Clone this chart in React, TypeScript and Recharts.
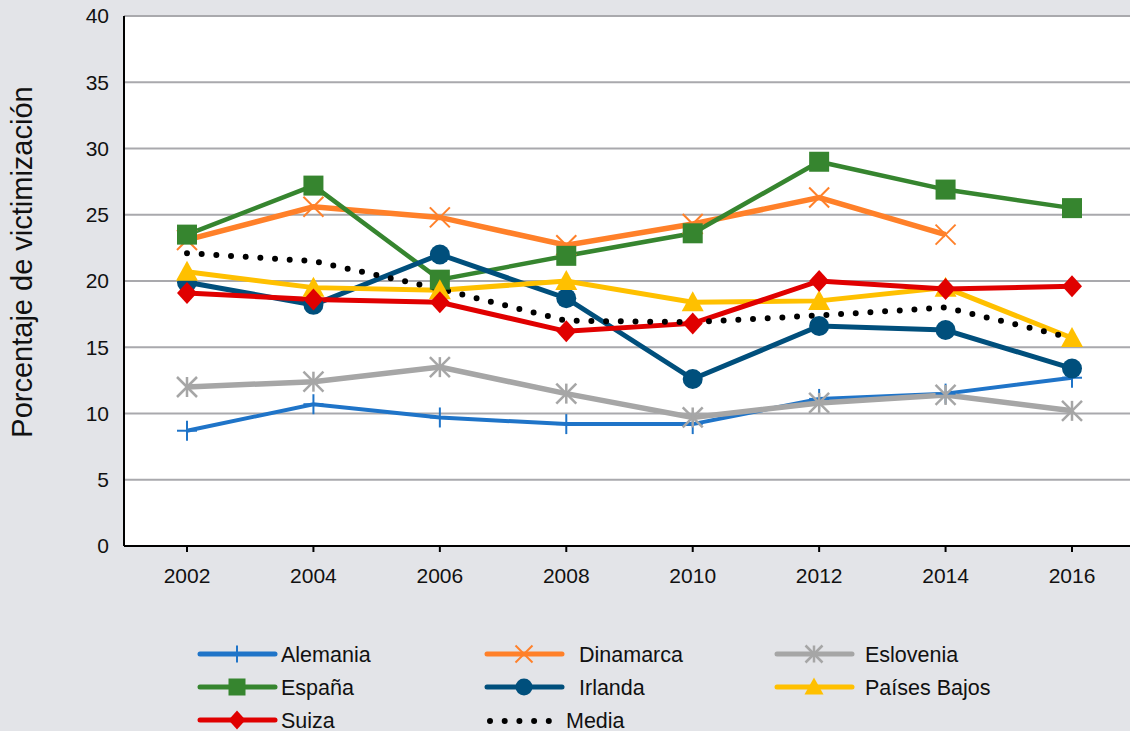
import React from 'react';
import { LineChart, Line, XAxis, YAxis, CartesianGrid } from 'recharts';

const years = ['2002', '2004', '2006', '2008', '2010', '2012', '2014', '2016'];
const yTicks = [0, 5, 10, 15, 20, 25, 30, 35, 40];

const alemania = [8.7, 10.7, 9.7, 9.2, 9.2, 11.1, 11.5, 12.7];
const dinamarca = [23.1, 25.6, 24.8, 22.7, 24.3, 26.3, 23.5, null];
const eslovenia = [12.0, 12.4, 13.5, 11.5, 9.7, 10.8, 11.4, 10.2];
const espana = [23.5, 27.2, 20.1, 21.9, 23.6, 29.0, 26.9, 25.5];
const irlanda = [19.9, 18.2, 22.0, 18.7, 12.6, 16.6, 16.3, 13.4];
const paisesBajos = [20.7, 19.5, 19.3, 20.0, 18.4, 18.5, 19.5, 15.7];
const suiza = [19.1, 18.6, 18.4, 16.2, 16.8, 20.0, 19.4, 19.6];
const media = [22.1, 21.5, 19.4, 17.0, 16.9, 17.4, 18.0, 15.7];

const data = years.map((year, i) => ({
  year,
  alemania: alemania[i],
  dinamarca: dinamarca[i],
  eslovenia: eslovenia[i],
  espana: espana[i],
  irlanda: irlanda[i],
  paisesBajos: paisesBajos[i],
  suiza: suiza[i],
  media: media[i],
}));

type Shape = 'plus' | 'x' | 'star' | 'square' | 'circle' | 'triangle' | 'diamond';

const series: { key: string; name: string; color: string; width: number; shape: Shape }[] = [
  { key: 'alemania', name: 'Alemania', color: '#1f74c8', width: 4, shape: 'plus' },
  { key: 'dinamarca', name: 'Dinamarca', color: '#ff8029', width: 5.5, shape: 'x' },
  { key: 'eslovenia', name: 'Eslovenia', color: '#a6a6a6', width: 5.5, shape: 'star' },
  { key: 'espana', name: 'España', color: '#36852f', width: 4.5, shape: 'square' },
  { key: 'irlanda', name: 'Irlanda', color: '#004f7c', width: 5, shape: 'circle' },
  { key: 'paisesBajos', name: 'Países Bajos', color: '#ffc000', width: 5, shape: 'triangle' },
  { key: 'suiza', name: 'Suiza', color: '#e00000', width: 5, shape: 'diamond' },
];

const Marker = ({ cx, cy, shape, color, s }: { cx: number; cy: number; shape: Shape; color: string; s: number }) => {
  const h = s / 2;
  switch (shape) {
    case 'plus':
      return (
        <g stroke={color} strokeWidth={2}>
          <line x1={cx} y1={cy - h} x2={cx} y2={cy + h} />
          <line x1={cx - h} y1={cy} x2={cx + h} y2={cy} />
        </g>
      );
    case 'x':
      return (
        <g stroke={color} strokeWidth={2}>
          <line x1={cx - h} y1={cy - h} x2={cx + h} y2={cy + h} />
          <line x1={cx - h} y1={cy + h} x2={cx + h} y2={cy - h} />
        </g>
      );
    case 'star':
      return (
        <g stroke={color} strokeWidth={2.5}>
          <line x1={cx - h} y1={cy - h} x2={cx + h} y2={cy + h} />
          <line x1={cx - h} y1={cy + h} x2={cx + h} y2={cy - h} />
          <line x1={cx} y1={cy - h} x2={cx} y2={cy + h} />
        </g>
      );
    case 'square':
      return <rect x={cx - h} y={cy - h} width={s} height={s} fill={color} />;
    case 'circle':
      return <circle cx={cx} cy={cy} r={h} fill={color} />;
    case 'triangle':
      return <path d={`M${cx},${cy - h - 1} L${cx + h + 1},${cy + h - 1} L${cx - h - 1},${cy + h - 1} Z`} fill={color} />;
    case 'diamond':
      return <path d={`M${cx},${cy - h - 1} L${cx + h},${cy} L${cx},${cy + h + 1} L${cx - h},${cy} Z`} fill={color} />;
  }
  return null;
};

const makeDot = (shape: Shape, color: string) => (props: any) => {
  const { cx, cy, index, value } = props;
  if (cx == null || cy == null || value == null) return <g key={`d-${index}`} />;
  return (
    <g key={`d-${index}`}>
      <Marker cx={cx} cy={cy} shape={shape} color={color} s={20} />
    </g>
  );
};

// legend placement: [line start x, text x, row y]
const legendPos = [
  [200, 281, 654],
  [487, 579, 654],
  [777, 865, 654],
  [200, 281, 687],
  [487, 579, 687],
  [777, 865, 687],
  [200, 281, 720],
];

const font = '"Liberation Sans", Arial, Helvetica, sans-serif';

const LegendBlock = () => (
  <svg width={1130} height={731} style={{ position: 'absolute', left: 0, top: 0, pointerEvents: 'none' }}>
    {series.map((s, i) => {
      const [x0, tx, y] = legendPos[i];
      const mid = x0 + 37;
      return (
        <g key={s.key}>
          <line x1={x0} y1={y} x2={x0 + 75} y2={y} stroke={s.color} strokeWidth={5} strokeLinecap="round" />
          <Marker cx={mid} cy={y} shape={s.shape} color={s.color} s={17} />
          <text x={tx} y={y} dy="0.36em" fontSize={21.5} fill="#111" fontFamily={font}>
            {s.name}
          </text>
        </g>
      );
    })}
    <line x1={490} y1={721} x2={552} y2={721} stroke="#000" strokeWidth={6} strokeDasharray="0 14.7" strokeLinecap="round" />
    <text x={566} y={720} dy="0.36em" fontSize={21.5} fill="#111" fontFamily={font}>
      Media
    </text>
    <text
      x={22}
      y={262}
      transform="rotate(-90 22 262)"
      textAnchor="middle"
      dy="0.36em"
      fontSize={29}
      fill="#111"
      fontFamily={font}
    >
      Porcentaje de victimización
    </text>
  </svg>
);

export default function App() {
  return (
    <div
      style={{
        position: 'fixed',
        left: 0,
        top: 0,
        width: 1130,
        height: 731,
        overflow: 'hidden',
        background: '#e3e4e8',
        fontFamily: font,
      }}
    >
      <LineChart width={1140} height={731} data={data} margin={{ top: 16, right: 5, left: 0, bottom: 155 }}>
        <CartesianGrid vertical={false} fill="#ffffff" stroke="#a9a9ad" strokeWidth={2} />
        <XAxis
          dataKey="year"
          padding={{ left: 63, right: 63 }}
          stroke="#000"
          strokeWidth={2}
          tickSize={6}
          tickMargin={16}
          height={30}
          tick={{ fill: '#111', fontSize: 21 }}
        />
        <YAxis
          domain={[0, 40]}
          ticks={yTicks}
          width={124}
          stroke="#000"
          strokeWidth={2}
          tickLine={false}
          tickMargin={9}
          tick={{ fill: '#111', fontSize: 21 }}
        />
        {series.map((s) => (
          <Line
            key={s.key}
            type="linear"
            dataKey={s.key}
            stroke={s.color}
            strokeWidth={s.width}
            dot={makeDot(s.shape, s.color)}
            activeDot={false}
            isAnimationActive={false}
          />
        ))}
        <Line
          type="linear"
          dataKey="media"
          stroke="#000"
          strokeWidth={6}
          strokeDasharray="0 14.7"
          strokeLinecap="round"
          dot={false}
          activeDot={false}
          isAnimationActive={false}
        />
      </LineChart>
      <LegendBlock />
    </div>
  );
}
